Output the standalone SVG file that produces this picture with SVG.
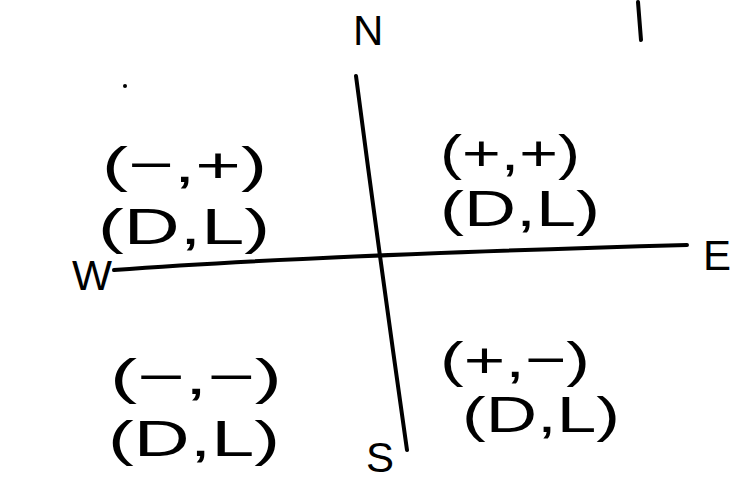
<svg xmlns="http://www.w3.org/2000/svg" width="744" height="481" viewBox="0 0 744 481">
<style>
.t{font-family:"Liberation Sans","DejaVu Sans",sans-serif;fill:#000;font-size:50px}
.l{font-family:"Liberation Sans","DejaVu Sans",sans-serif;fill:#000;font-size:42px}
.ax{fill:none;stroke:#000;stroke-width:4;stroke-linecap:round}
</style>
<rect width="744" height="481" fill="#fff"/>
<g id="connectors">
<path class="ax" d="M356,76 Q380,260 407,450"/>
<path class="ax" d="M114,270 Q300,256 687,245"/>
<path class="ax" d="M638,2 L641,40"/>
</g>
<circle cx="125" cy="86" r="2" fill="#000"/>
<g id="label-N"><text class="l" x="353" y="45">N</text></g>
<g id="label-W"><text class="l" x="72" y="290" textLength="40" lengthAdjust="spacingAndGlyphs">W</text></g>
<g id="label-E"><text class="l" x="703" y="270">E</text></g>
<g id="label-S"><text class="l" x="366" y="472" font-size="38">S</text></g>
<g id="q-nw">
<text class="t" x="102" y="182" textLength="165" lengthAdjust="spacingAndGlyphs">(−,+)</text>
<text class="t" x="98" y="244" textLength="172" lengthAdjust="spacingAndGlyphs">(D,L)</text>
</g>
<g id="q-ne">
<text class="t" x="440" y="170" textLength="140" lengthAdjust="spacingAndGlyphs">(+,+)</text>
<text class="t" x="440" y="226" textLength="160" lengthAdjust="spacingAndGlyphs">(D,L)</text>
</g>
<g id="q-sw">
<text class="t" x="110" y="394" textLength="172" lengthAdjust="spacingAndGlyphs">(−,−)</text>
<text class="t" x="108" y="456" textLength="172" lengthAdjust="spacingAndGlyphs">(D,L)</text>
</g>
<g id="q-se">
<text class="t" x="440" y="377" textLength="150" lengthAdjust="spacingAndGlyphs">(+,−)</text>
<text class="t" x="462" y="432" textLength="158" lengthAdjust="spacingAndGlyphs">(D,L)</text>
</g>
</svg>
